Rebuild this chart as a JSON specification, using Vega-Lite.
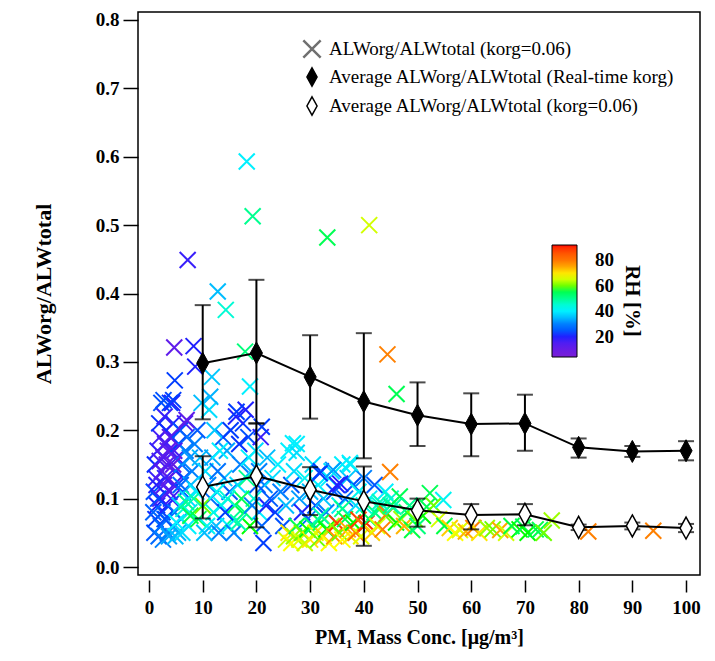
{
  "$schema": "https://vega.github.io/schema/vega-lite/v6.json",
  "autosize": {"type": "none"},
  "width": 562,
  "height": 563,
  "padding": {"left": 138, "top": 12, "right": 15, "bottom": 86},
  "background": "white",
  "config": {
    "view": {"stroke": "black", "strokeWidth": 1.5},
    "font": "Liberation Serif",
    "axis": {"grid": false, "domain": false, "tickColor": "black", "tickWidth": 1.5, "labelColor": "black", "labelFont": "Liberation Serif", "labelFontSize": 19, "labelFontWeight": "bold", "titleColor": "black", "titleFont": "Liberation Serif", "titleFontWeight": "bold"},
    "legend": {"labelFont": "Liberation Serif", "titleFont": "Liberation Serif", "labelColor": "black", "titleColor": "black", "labelLimit": 0}
  },
  "datasets": {
    "pts": [
      {"x":1,"y":0.05,"r":25},{"x":1.2,"y":0.07,"r":22},{"x":1.5,"y":0.09,"r":20},{"x":0.9,"y":0.11,"r":24},{"x":1.3,"y":0.13,"r":18},{"x":1.1,"y":0.15,"r":21},{"x":1.6,"y":0.17,"r":19},{"x":2,"y":0.19,"r":17},{"x":2.2,"y":0.06,"r":28},{"x":2.5,"y":0.08,"r":23},{"x":2.1,"y":0.1,"r":16},{"x":2.8,"y":0.12,"r":15},{"x":2.4,"y":0.14,"r":14},{"x":2.7,"y":0.16,"r":13},{"x":3,"y":0.18,"r":15},{"x":3.2,"y":0.2,"r":16},{"x":3.5,"y":0.05,"r":30},{"x":3.1,"y":0.07,"r":26},{"x":3.4,"y":0.09,"r":20},{"x":3.8,"y":0.11,"r":14},{"x":3.6,"y":0.13,"r":12},{"x":3.3,"y":0.15,"r":13},{"x":4,"y":0.17,"r":14},{"x":4.2,"y":0.19,"r":18},{"x":4.5,"y":0.21,"r":20},{"x":4.4,"y":0.06,"r":32},{"x":4.8,"y":0.08,"r":27},{"x":4.1,"y":0.1,"r":18},{"x":4.6,"y":0.12,"r":15},{"x":5,"y":0.14,"r":14},{"x":5.2,"y":0.16,"r":17},{"x":5.5,"y":0.18,"r":22},{"x":5.8,"y":0.2,"r":24},{"x":5.4,"y":0.05,"r":34},{"x":6,"y":0.07,"r":30},{"x":5.7,"y":0.09,"r":36},{"x":6.3,"y":0.11,"r":25},{"x":6.5,"y":0.13,"r":22},{"x":6.1,"y":0.15,"r":28},{"x":6.8,"y":0.17,"r":30},{"x":7,"y":0.19,"r":26},{"x":7.3,"y":0.06,"r":40},{"x":7.5,"y":0.08,"r":44},{"x":7.2,"y":0.1,"r":38},{"x":7.8,"y":0.12,"r":35},{"x":8,"y":0.14,"r":30},{"x":7.6,"y":0.16,"r":32},{"x":1.8,"y":0.045,"r":27},{"x":2.6,"y":0.04,"r":30},{"x":1.4,"y":0.12,"r":20},{"x":0.8,"y":0.08,"r":26},{"x":1.7,"y":0.1,"r":23},{"x":2.9,"y":0.07,"r":24},{"x":3.7,"y":0.045,"r":33},{"x":4.9,"y":0.045,"r":35},{"x":6.2,"y":0.05,"r":38},{"x":5.9,"y":0.12,"r":27},{"x":3.9,"y":0.24,"r":22},{"x":2.3,"y":0.24,"r":24},{"x":4.3,"y":0.24,"r":20},{"x":1.9,"y":0.21,"r":21},{"x":2.9,"y":0.22,"r":18},{"x":6.7,"y":0.21,"r":16},{"x":6.4,"y":0.085,"r":45},{"x":6.9,"y":0.095,"r":50},{"x":7.7,"y":0.075,"r":55},{"x":5.1,"y":0.065,"r":40},{"x":3,"y":0.13,"r":18},{"x":4.7,"y":0.17,"r":16},{"x":2,"y":0.155,"r":15},{"x":3.5,"y":0.17,"r":12},{"x":4.5,"y":0.15,"r":11},{"x":3.9,"y":0.19,"r":13},
      {"x":8.5,"y":0.18,"r":30},{"x":9,"y":0.2,"r":25},{"x":9.5,"y":0.16,"r":35},{"x":10.5,"y":0.14,"r":38},{"x":11,"y":0.12,"r":30},{"x":11.5,"y":0.1,"r":28},{"x":12,"y":0.08,"r":45},{"x":12.5,"y":0.06,"r":35},{"x":13,"y":0.05,"r":30},{"x":13.5,"y":0.09,"r":40},{"x":14,"y":0.13,"r":36},{"x":14.5,"y":0.17,"r":33},{"x":15,"y":0.11,"r":25},{"x":15.5,"y":0.07,"r":50},{"x":16,"y":0.09,"r":55},{"x":16.5,"y":0.12,"r":38},{"x":17,"y":0.15,"r":30},{"x":17.5,"y":0.21,"r":22},{"x":18,"y":0.23,"r":20},{"x":18.5,"y":0.19,"r":24},{"x":19,"y":0.14,"r":35},{"x":19.5,"y":0.1,"r":45},{"x":20.5,"y":0.08,"r":40},{"x":21,"y":0.06,"r":26},{"x":21.5,"y":0.12,"r":30},{"x":22,"y":0.16,"r":35},{"x":9.2,"y":0.07,"r":55},{"x":10,"y":0.09,"r":60},{"x":10.8,"y":0.06,"r":42},{"x":11.8,"y":0.16,"r":33},{"x":12.8,"y":0.14,"r":28},{"x":13.8,"y":0.19,"r":25},{"x":14.8,"y":0.06,"r":40},{"x":15.8,"y":0.05,"r":30},{"x":16.8,"y":0.18,"r":21},{"x":17.8,"y":0.08,"r":52},{"x":18.8,"y":0.06,"r":58},{"x":19.8,"y":0.17,"r":38},{"x":20.2,"y":0.12,"r":25},{"x":21.8,"y":0.09,"r":20},{"x":8.8,"y":0.11,"r":40},{"x":9.8,"y":0.24,"r":35},{"x":11.2,"y":0.23,"r":38},{"x":12.2,"y":0.2,"r":36},{"x":13.2,"y":0.17,"r":40},{"x":15.2,"y":0.2,"r":22},{"x":16.2,"y":0.22,"r":20},{"x":17.2,"y":0.1,"r":55},{"x":18.2,"y":0.13,"r":50},{"x":14.2,"y":0.08,"r":22},{"x":8.3,"y":0.1,"r":48},{"x":10.3,"y":0.05,"r":35},{"x":19.2,"y":0.09,"r":30},{"x":20.8,"y":0.19,"r":18},{"x":12.6,"y":0.11,"r":42},{"x":14.6,"y":0.1,"r":45},{"x":16.6,"y":0.065,"r":48},{"x":18.6,"y":0.16,"r":40},{"x":20.5,"y":0.14,"r":30},
      {"x":22.5,"y":0.1,"r":25},{"x":23,"y":0.13,"r":38},{"x":23.5,"y":0.08,"r":22},{"x":24,"y":0.15,"r":40},{"x":24.5,"y":0.11,"r":30},{"x":25,"y":0.06,"r":24},{"x":25.5,"y":0.09,"r":35},{"x":26,"y":0.17,"r":40},{"x":26.5,"y":0.12,"r":25},{"x":27,"y":0.14,"r":38},{"x":27.5,"y":0.18,"r":40},{"x":28,"y":0.1,"r":32},{"x":28.5,"y":0.08,"r":20},{"x":29,"y":0.13,"r":42},{"x":29.5,"y":0.07,"r":28},{"x":30,"y":0.11,"r":35},{"x":30.5,"y":0.15,"r":38},{"x":31,"y":0.09,"r":24},{"x":31.5,"y":0.12,"r":40},{"x":32,"y":0.14,"r":22},{"x":32.5,"y":0.1,"r":36},{"x":33,"y":0.08,"r":30},{"x":33.5,"y":0.13,"r":40},{"x":34,"y":0.14,"r":38},{"x":34.5,"y":0.11,"r":25},{"x":35,"y":0.12,"r":20},{"x":35.5,"y":0.09,"r":42},{"x":36,"y":0.15,"r":40},{"x":36.5,"y":0.1,"r":28},{"x":37,"y":0.13,"r":36},{"x":37.5,"y":0.15,"r":40},{"x":38,"y":0.12,"r":24},{"x":38.5,"y":0.09,"r":38},{"x":39,"y":0.11,"r":42},{"x":40,"y":0.13,"r":30},{"x":41,"y":0.1,"r":40},{"x":42,"y":0.12,"r":25},{"x":43,"y":0.09,"r":44},{"x":44,"y":0.11,"r":40},{"x":45,"y":0.1,"r":46},{"x":27.5,"y":0.167,"r":38},{"x":26.8,"y":0.181,"r":40},{"x":31.8,"y":0.137,"r":22},{"x":35.6,"y":0.122,"r":20},{"x":34.3,"y":0.142,"r":32},{"x":37.4,"y":0.152,"r":40},
      {"x":25.5,"y":0.04,"r":65},{"x":26,"y":0.05,"r":70},{"x":26.5,"y":0.035,"r":68},{"x":27,"y":0.045,"r":62},{"x":27.5,"y":0.06,"r":55},{"x":28,"y":0.04,"r":66},{"x":28.5,"y":0.05,"r":60},{"x":29,"y":0.035,"r":64},{"x":29.5,"y":0.055,"r":58},{"x":30,"y":0.04,"r":70},{"x":30.5,"y":0.06,"r":52},{"x":31,"y":0.05,"r":66},{"x":31.5,"y":0.04,"r":60},{"x":32,"y":0.065,"r":55},{"x":32.5,"y":0.045,"r":72},{"x":33,"y":0.055,"r":58},{"x":33.5,"y":0.035,"r":68},{"x":34,"y":0.06,"r":62},{"x":34.5,"y":0.045,"r":76},{"x":35,"y":0.064,"r":88},{"x":35.5,"y":0.05,"r":60},{"x":36,"y":0.04,"r":68},{"x":36.5,"y":0.07,"r":56},{"x":37,"y":0.055,"r":75},{"x":37.5,"y":0.045,"r":70},{"x":38,"y":0.065,"r":58},{"x":38.5,"y":0.05,"r":80},{"x":39,"y":0.069,"r":88},{"x":39.5,"y":0.045,"r":66},{"x":40,"y":0.06,"r":78},{"x":40.5,"y":0.064,"r":90},{"x":41,"y":0.07,"r":55},{"x":41.5,"y":0.05,"r":72},{"x":42,"y":0.08,"r":52},{"x":42.5,"y":0.06,"r":66},{"x":43,"y":0.085,"r":50},{"x":43.5,"y":0.055,"r":78},{"x":44,"y":0.075,"r":60},{"x":44.3,"y":0.078,"r":78},{"x":45,"y":0.09,"r":52},{"x":45.5,"y":0.088,"r":48},{"x":46,"y":0.065,"r":58},{"x":46.7,"y":0.103,"r":55},{"x":47,"y":0.07,"r":62},{"x":47.5,"y":0.06,"r":74},{"x":48,"y":0.08,"r":55},{"x":48.5,"y":0.09,"r":50},{"x":49,"y":0.054,"r":56},{"x":49.5,"y":0.07,"r":60},{"x":50,"y":0.06,"r":52},{"x":51,"y":0.075,"r":58},{"x":51.7,"y":0.088,"r":55},{"x":52.3,"y":0.108,"r":55},{"x":53,"y":0.09,"r":60},{"x":54,"y":0.07,"r":65},{"x":54.8,"y":0.098,"r":42},{"x":55,"y":0.06,"r":56},{"x":32,"y":0.075,"r":48},{"x":36,"y":0.085,"r":50},{"x":40,"y":0.09,"r":45},{"x":43,"y":0.095,"r":47},
      {"x":56,"y":0.057,"r":72},{"x":57,"y":0.05,"r":68},{"x":57.9,"y":0.054,"r":66},{"x":59,"y":0.052,"r":74},{"x":60.4,"y":0.057,"r":78},{"x":61.5,"y":0.05,"r":70},{"x":62.9,"y":0.057,"r":62},{"x":64,"y":0.055,"r":60},{"x":65.4,"y":0.054,"r":75},{"x":66.5,"y":0.05,"r":65},{"x":67.5,"y":0.06,"r":56},{"x":69,"y":0.055,"r":58},{"x":69.7,"y":0.059,"r":55},{"x":70.5,"y":0.05,"r":58},{"x":72,"y":0.055,"r":56},{"x":72.8,"y":0.054,"r":55},{"x":73.5,"y":0.05,"r":60},{"x":75,"y":0.068,"r":62},{"x":81.8,"y":0.052,"r":78},{"x":93.9,"y":0.053,"r":78},
      {"x":18.2,"y":0.593,"r":40},{"x":19.3,"y":0.513,"r":50},{"x":33.2,"y":0.482,"r":55},{"x":41.0,"y":0.5,"r":65},{"x":7.2,"y":0.449,"r":18},{"x":12.8,"y":0.403,"r":35},{"x":14.3,"y":0.376,"r":45},{"x":4.7,"y":0.321,"r":12},{"x":8.3,"y":0.323,"r":20},{"x":44.4,"y":0.311,"r":78},{"x":17.9,"y":0.315,"r":52},{"x":46.1,"y":0.253,"r":55},{"x":44.9,"y":0.139,"r":78},{"x":8.6,"y":0.293,"r":20},{"x":4.8,"y":0.273,"r":22},{"x":11.7,"y":0.278,"r":36},{"x":11.4,"y":0.249,"r":34},{"x":2.7,"y":0.244,"r":24},{"x":4.5,"y":0.244,"r":22},{"x":18.8,"y":0.264,"r":40},{"x":7.0,"y":0.215,"r":12},{"x":16.3,"y":0.227,"r":22},{"x":21,"y":0.205,"r":22},{"x":21.3,"y":0.035,"r":22}
    ],
    "avg": [
      {"x":10,"bm":0.298,"blo":0.216,"bhi":0.383,"wm":0.117,"wlo":0.071,"whi":0.162},
      {"x":20,"bm":0.313,"blo":0.21,"bhi":0.42,"wm":0.133,"wlo":0.058,"whi":0.21},
      {"x":30,"bm":0.278,"blo":0.217,"bhi":0.339,"wm":0.113,"wlo":0.076,"whi":0.146},
      {"x":40,"bm":0.242,"blo":0.159,"bhi":0.342,"wm":0.096,"wlo":0.031,"whi":0.147},
      {"x":50,"bm":0.222,"blo":0.177,"bhi":0.27,"wm":0.083,"wlo":0.059,"whi":0.1},
      {"x":60,"bm":0.209,"blo":0.162,"bhi":0.254,"wm":0.076,"wlo":0.055,"whi":0.092},
      {"x":70,"bm":0.21,"blo":0.17,"bhi":0.252,"wm":0.077,"wlo":0.061,"whi":0.092},
      {"x":80,"bm":0.175,"blo":0.16,"bhi":0.188,"wm":0.058,"wlo":0.054,"whi":0.062},
      {"x":90,"bm":0.169,"blo":0.161,"bhi":0.177,"wm":0.06,"wlo":0.055,"whi":0.065},
      {"x":100,"bm":0.17,"blo":0.156,"bhi":0.184,"wm":0.057,"wlo":0.051,"whi":0.063}
    ]
  },
  "encoding": {
    "x": {"type": "quantitative", "scale": {"domain": [-2.05, 102.6], "nice": false, "zero": false},
      "axis": {"title": "PM₁ Mass Conc. [μg/m³]", "values": [0,10,20,30,40,50,60,70,80,90,100], "tickSize": 12, "offset": 5, "labelPadding": 6, "titleFontSize": 20, "titlePadding": 10}}
  },
  "layer": [
    {
      "data": {"name": "pts"},
      "mark": {"type": "point", "filled": false, "strokeWidth": 2, "size": 256, "opacity": 1},
      "encoding": {
        "x": {"field": "x", "type": "quantitative"},
        "y": {"field": "y", "type": "quantitative", "scale": {"domain": [-0.0117, 0.8117], "nice": false, "zero": false},
          "axis": {"title": "ALWorg/ALWtotal", "values": [0,0.1,0.2,0.3,0.4,0.5,0.6,0.7,0.8], "format": ".1f", "tickSize": 15, "labelPadding": 4, "titleFontSize": 22, "titlePadding": 40}},
        "color": {"field": "r", "type": "quantitative",
          "scale": {"domain": [4, 20, 30, 40, 50, 58, 68, 78, 92], "range": ["#7a1fd6", "#2020ff", "#0080ff", "#00f0ff", "#00ff90", "#00ff00", "#ffff00", "#ff8000", "#ff0000"], "clamp": true},
          "legend": {"type": "gradient", "direction": "vertical", "orient": "none", "legendX": 414, "legendY": 233, "gradientLength": 112, "gradientThickness": 25, "gradientStrokeColor": "black", "gradientStrokeWidth": 1, "values": [20, 40, 60, 80], "labelFontSize": 19, "labelFontWeight": "bold", "labelOffset": 18, "title": "RH [%]", "titleOrient": "right", "titleFontSize": 21, "titleFontWeight": "bold", "titlePadding": 8, "titleAnchor": "middle"}},
        "shape": {"datum": "ALWorg/ALWtotal (korg=0.06)", "type": "nominal",
          "scale": {"domain": ["ALWorg/ALWtotal (korg=0.06)"], "range": ["M-1,-1L1,1M-1,1L1,-1"]},
          "legend": {"title": null, "orient": "none", "legendX": 164, "legendY": 27, "labelFontSize": 19, "labelFontWeight": "normal", "labelLimit": 0, "symbolSize": 300, "labelOffset": 7, "symbolStrokeColor": "#707070", "symbolStrokeWidth": 2.5, "symbolFillColor": "transparent", "symbolOpacity": 1}}
      }
    },
    {
      "data": {"name": "avg"},
      "mark": {"type": "line", "color": "black", "strokeWidth": 2},
      "encoding": {"x": {"field": "x", "type": "quantitative"}, "y": {"field": "wm", "type": "quantitative"}}
    },
    {
      "data": {"name": "avg"},
      "mark": {"type": "rule", "color": "black", "strokeWidth": 2},
      "encoding": {"x": {"field": "x", "type": "quantitative"}, "y": {"field": "wlo", "type": "quantitative"}, "y2": {"field": "whi"}}
    },
    {
      "data": {"name": "avg"},
      "mark": {"type": "tick", "color": "black", "orient": "horizontal", "size": 16, "thickness": 2},
      "encoding": {"x": {"field": "x", "type": "quantitative"}, "y": {"field": "wlo", "type": "quantitative"}}
    },
    {
      "data": {"name": "avg"},
      "mark": {"type": "tick", "color": "black", "orient": "horizontal", "size": 16, "thickness": 2},
      "encoding": {"x": {"field": "x", "type": "quantitative"}, "y": {"field": "whi", "type": "quantitative"}}
    },
    {
      "data": {"name": "avg"},
      "mark": {"type": "point", "filled": true, "shape": "M0,-1L0.55,0L0,1L-0.55,0Z", "stroke": "black", "strokeWidth": 1.5, "size": 484, "opacity": 1},
      "encoding": {"x": {"field": "x", "type": "quantitative"}, "y": {"field": "wm", "type": "quantitative"},
        "fill": {"datum": "Average ALWorg/ALWtotal (korg=0.06)", "type": "nominal",
          "scale": {"domain": ["Average ALWorg/ALWtotal (Real-time korg)", "Average ALWorg/ALWtotal (korg=0.06)"], "range": ["black", "white"]},
          "legend": {"title": null, "orient": "none", "legendX": 164, "legendY": 55, "labelFontSize": 19, "labelFontWeight": "normal", "labelLimit": 0, "symbolSize": 340, "symbolType": "M0,-1L0.55,0L0,1L-0.55,0Z", "symbolStrokeColor": "black", "symbolStrokeWidth": 1.5, "labelOffset": 7, "rowPadding": 3, "symbolOpacity": 1}}}
    },
    {
      "data": {"name": "avg"},
      "mark": {"type": "line", "color": "black", "strokeWidth": 2},
      "encoding": {"x": {"field": "x", "type": "quantitative"}, "y": {"field": "bm", "type": "quantitative"}}
    },
    {
      "data": {"name": "avg"},
      "mark": {"type": "rule", "color": "black", "strokeWidth": 2},
      "encoding": {"x": {"field": "x", "type": "quantitative"}, "y": {"field": "blo", "type": "quantitative"}, "y2": {"field": "bhi"}}
    },
    {
      "data": {"name": "avg"},
      "mark": {"type": "tick", "color": "black", "orient": "horizontal", "size": 16, "thickness": 2},
      "encoding": {"x": {"field": "x", "type": "quantitative"}, "y": {"field": "blo", "type": "quantitative"}}
    },
    {
      "data": {"name": "avg"},
      "mark": {"type": "tick", "color": "black", "orient": "horizontal", "size": 16, "thickness": 2},
      "encoding": {"x": {"field": "x", "type": "quantitative"}, "y": {"field": "bhi", "type": "quantitative"}}
    },
    {
      "data": {"name": "avg"},
      "mark": {"type": "point", "filled": true, "shape": "M0,-1L0.55,0L0,1L-0.55,0Z", "stroke": "black", "strokeWidth": 1, "size": 484, "opacity": 1},
      "encoding": {"x": {"field": "x", "type": "quantitative"}, "y": {"field": "bm", "type": "quantitative"},
        "fill": {"datum": "Average ALWorg/ALWtotal (Real-time korg)", "type": "nominal"}}
    }
  ]
}
